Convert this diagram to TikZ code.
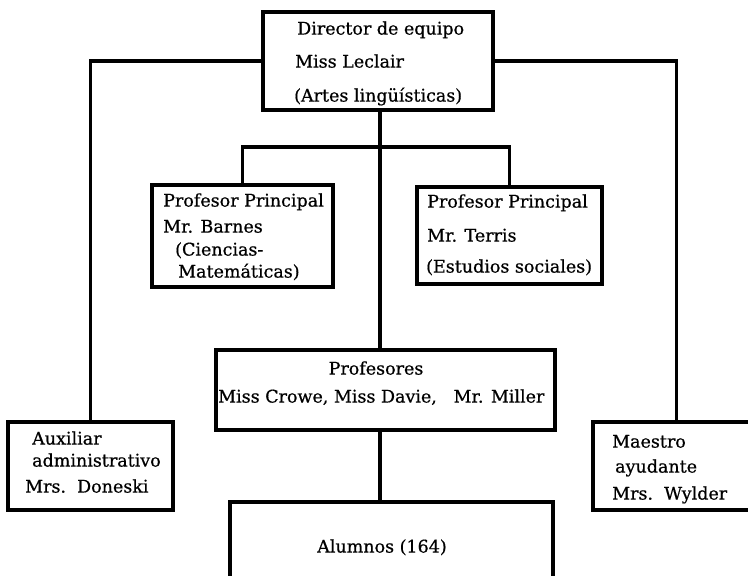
\documentclass[tikz,border=0pt]{standalone}
\usepackage{fontspec}
\setmainfont[FakeBold=0.6]{DejaVu Serif}
\begin{document}
\begin{tikzpicture}[x=1pt,y=-1pt,
  box/.style={draw,line width=3.4pt,rectangle,inner sep=0pt},
  wire/.style={line width=3.4pt},
  lbl/.style={anchor=mid west,inner sep=0pt,font=\fontsize{17.5}{19}\selectfont},
  clbl/.style={anchor=mid,inner sep=0pt,font=\fontsize{17.5}{19}\selectfont}]
\useasboundingbox (0,0) rectangle (748,576);
\clip (0,0) rectangle (748,576);
\fill[white] (0,0) rectangle (748,576);
% boxes
\node[box,minimum width=230pt,minimum height=98pt] (top) at (378,61) {};
\node[box,minimum width=181pt,minimum height=102pt] (barnes) at (242.5,236) {};
\node[box,minimum width=185pt,minimum height=97pt] (terris) at (509.5,235.5) {};
\node[box,minimum width=339pt,minimum height=80pt] (prof) at (385.5,390) {};
\node[box,minimum width=165pt,minimum height=88pt] (aux) at (90.5,466) {};
\node[box,minimum width=167pt,minimum height=88pt] (maes) at (676.5,466) {};
\node[box,minimum width=323pt,minimum height=100pt] (alum) at (391.5,552) {};
\coordinate (bar) at (380,147);
% connectors
\draw[wire] (top.west) -| (aux.north);
\draw[wire] (top.east) -| (maes.north);
\draw[wire] (top.south -| bar) -- (bar);
\draw[wire] (barnes.north) |- (terris.north |- bar) -- (terris.north);
\draw[wire] (bar) -- (prof.north -| bar);
\draw[wire] (prof.south -| bar) -- (alum.north -| bar);
% texts
\node[lbl] (t1) at (297,32) {Director de equipo};
\node[lbl] (t2) at (295,65) {Miss Leclair};
\node[lbl] (t3) at (294,99) {(Artes lingüísticas)};
\node[lbl] (b1) at (163,204) {Profesor Principal};
\node[lbl] (b2) at (163,230) {Mr. Barnes};
\node[lbl] (b3) at (175,253) {(Ciencias-};
\node[lbl] (b4) at (178,275) {Matemáticas)};
\node[lbl] (r1) at (427,205) {Profesor Principal};
\node[lbl] (r2) at (427,239) {Mr. Terris};
\node[lbl] (r3) at (426,270) {(Estudios sociales)};
\node[clbl] (p1) at (376,372) {Profesores};
\node[lbl] (p2) at (218,400) {Miss Crowe,\ Miss Davie,\ \ \ Mr. Miller};
\node[lbl] (a1) at (32,442) {Auxiliar};
\node[lbl] (a2) at (32,464) {administrativo};
\node[lbl] (a3) at (25,490) {Mrs.\ \ Doneski};
\node[lbl] (m1) at (612,445) {Maestro};
\node[lbl] (m2) at (615,470) {ayudante};
\node[lbl] (m3) at (612,497) {Mrs.\ \ Wylder};
\node[clbl] (s1) at (382,550) {Alumnos (164)};
\end{tikzpicture}
\end{document}
